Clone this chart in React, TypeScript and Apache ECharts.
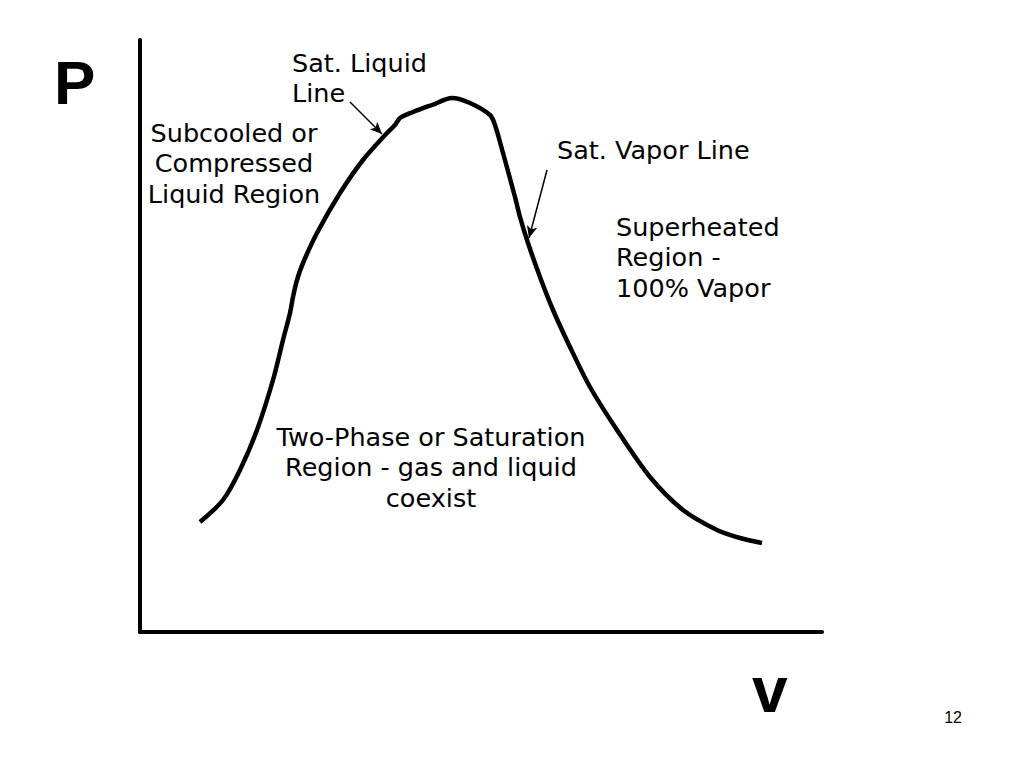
import React, { useEffect, useRef } from "react";
import * as echarts from "echarts";

// Saturation dome: v (horizontal, 0..682) and P (vertical, 0..592)
const domeV = [60, 83, 100, 117, 133, 143, 150, 153, 157, 163, 177, 200, 223, 247, 255, 260, 273, 292, 312, 330, 350, 355, 363, 375, 380, 388, 400, 413, 430, 450, 477, 510, 543, 577, 600, 622];
const domeP = [110, 132, 162, 202, 252, 292, 319, 335, 352, 369, 399, 439, 472, 499, 507, 514, 520, 527, 534, 529, 517, 507, 479, 435, 415, 389, 355, 322, 285, 245, 202, 155, 122, 102, 94, 89];

const liquidArrow = [[210, 530], [242, 498]];
const vaporArrow = [[407, 462], [389, 394]];

const FONT = "DejaVu Sans, Verdana, sans-serif";

export default function App() {
  const ref = useRef<HTMLDivElement>(null);
  useEffect(() => {
    const chart = echarts.init(ref.current!, null, { renderer: "svg" });
    const txt = (x: number, y: number, text: string, align: string, extra: any = {}) => ({
      type: "text",
      x,
      y,
      style: {
        text,
        fill: "#000",
        font: `25.5px ${FONT}`,
        align,
        verticalAlign: "middle",
        lineHeight: 30.5,
        ...extra,
      },
    });
    chart.setOption({
      animation: false,
      backgroundColor: "#fff",
      grid: { left: 140, top: 40, right: 202, bottom: 136 },
      xAxis: {
        type: "value",
        min: 0,
        max: 682,
        axisLine: { show: true, onZero: false, lineStyle: { color: "#000", width: 4 } },
        axisTick: { show: false },
        axisLabel: { show: false },
        splitLine: { show: false },
      },
      yAxis: {
        type: "value",
        min: 0,
        max: 592,
        axisLine: { show: true, onZero: false, lineStyle: { color: "#000", width: 4 } },
        axisTick: { show: false },
        axisLabel: { show: false },
        splitLine: { show: false },
      },
      series: [
        {
          type: "line",
          data: domeV.map((v, i) => [v, domeP[i]]),
          smooth: 0.3,
          showSymbol: false,
          lineStyle: { color: "#000", width: 4.5 },
          markLine: {
            silent: true,
            symbol: ["none", "arrow"],
            symbolSize: [8, 12],
            label: { show: false },
            lineStyle: { color: "#000", width: 1.5, type: "solid" },
            data: [
              [{ coord: liquidArrow[0] }, { coord: liquidArrow[1] }],
              [{ coord: vaporArrow[0] }, { coord: vaporArrow[1] }],
            ],
          },
        },
      ],
      graphic: [
        txt(54, 82, "P", "left", { font: `bold 62px Liberation Sans, Arial, sans-serif` }),
        txt(752, 690, "v", "left", { font: `bold 64px Liberation Sans, Arial, sans-serif` }),
        txt(962, 717, "12", "right", { font: `16px Liberation Sans, Arial, sans-serif` }),
        txt(292, 78, "Sat. Liquid\nLine", "left"),
        txt(234, 163, "Subcooled or\nCompressed\nLiquid Region", "center"),
        txt(557, 150, "Sat. Vapor Line", "left"),
        txt(616, 257, "Superheated\nRegion -\n100% Vapor", "left"),
        txt(431, 467, "Two-Phase or Saturation\nRegion - gas and liquid\ncoexist", "center"),
      ],
    });
    return () => chart.dispose();
  }, []);
  return <div ref={ref} style={{ position: "fixed", left: 0, top: 0, width: 1024, height: 768 }} />;
}
